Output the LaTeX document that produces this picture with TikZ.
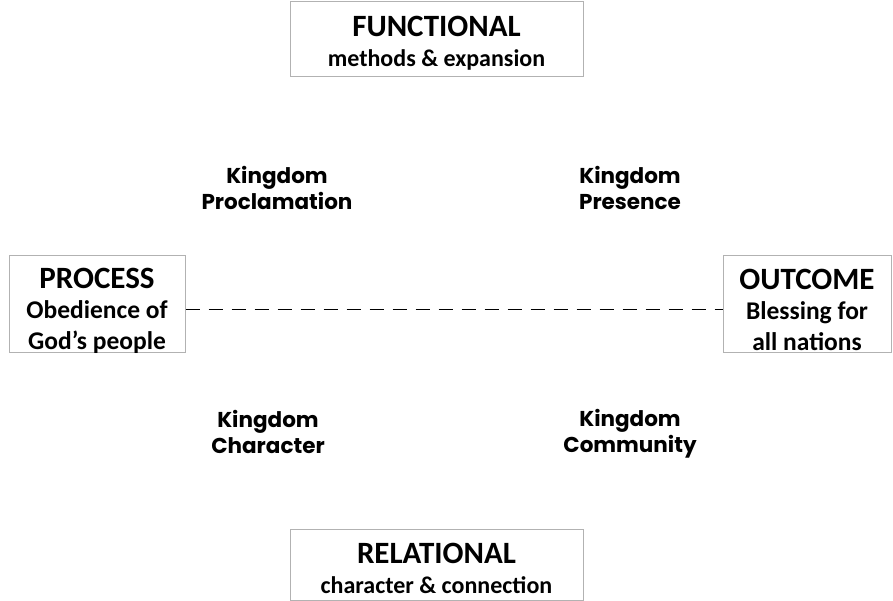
\documentclass[tikz,border=0pt]{standalone}
\usepackage{fontspec}
\setmainfont{Carlito}
\newfontfamily\kfont{Poppins}
\usetikzlibrary{positioning}

\begin{document}
\begin{tikzpicture}[
  x=1pt, y=1pt,
  dim/.style={rectangle, draw=black!30, line width=1pt, inner sep=0pt},
  axis/.style={align=center, inner sep=0pt, font=\fontsize{24}{30}\selectfont\bfseries},
  side/.style={align=center, inner sep=0pt, font=\fontsize{25.5}{30.5}\selectfont\bfseries},
  kng/.style={align=center, font=\kfont\bfseries\fontsize{21.5}{26}\selectfont}
]
\useasboundingbox (0,0) rectangle (893,600);
% boxes
\node[dim, minimum width=293pt, minimum height=75pt] (func) at (436.5,560.5) {};
\node[dim, minimum width=293pt, minimum height=71pt] (rel) at (436.5,35.5) {};
\node[dim, minimum width=176pt, minimum height=97pt] (proc) at (97,295.5) {};
\node[dim, minimum width=168pt, minimum height=97pt] (out) at (807,295.5) {};
% box texts
\node[axis] (funct) at ([yshift=-4pt]func.center)
  {{\fontsize{31}{30}\selectfont FUNCTIONAL}\\methods \& expansion};
\node[axis] (relt) at ([yshift=-4pt]rel.center)
  {{\fontsize{31}{30}\selectfont RELATIONAL}\\character \& connection};
\node[side] (proct) at ([yshift=-6pt]proc.center)
  {{\fontsize{31}{30}\selectfont PROCESS}\\Obedience of\\God’s people};
\node[side] (outt) at ([yshift=-5pt]out.center)
  {{\fontsize{31}{30}\selectfont OUTCOME}\\Blessing for\\all nations};
% kingdom labels
\node[kng] (procl) at (277,412) {Kingdom\\Proclamation};
\node[kng] (pres) at (630,412) {Kingdom\\Presence};
\node[kng] (char) at (268,168.5) {Kingdom\\Character};
\node[kng] (comm) at (630,166) {Kingdom\\Community};
\draw[line width=1pt, dash pattern=on 14pt off 9pt] ([yshift=-5.5pt]proc.east) -- ([yshift=-5.5pt]out.west);
\end{tikzpicture}
\end{document}
